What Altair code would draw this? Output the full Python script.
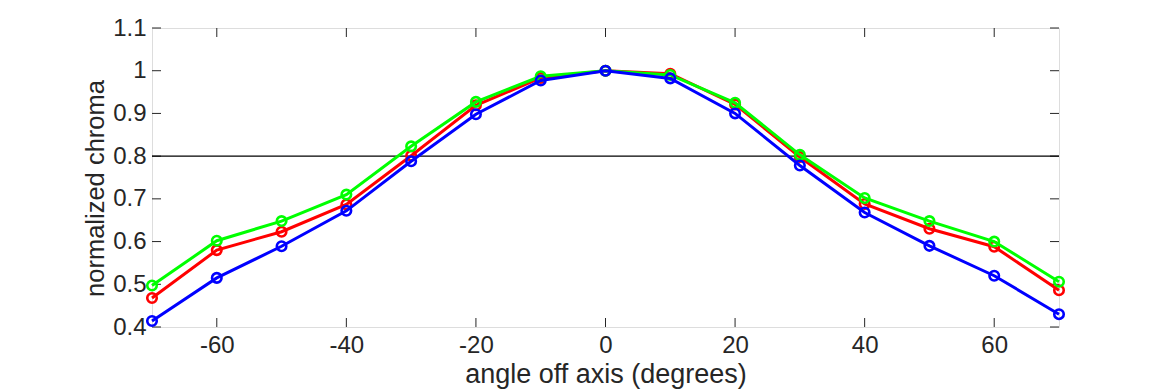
import altair as alt
import pandas as pd

angles = [-70, -60, -50, -40, -30, -20, -10, 0, 10, 20, 30, 40, 50, 60, 70]
red = [0.468, 0.580, 0.623, 0.687, 0.801, 0.919, 0.983, 1.0, 0.993, 0.921, 0.798, 0.688, 0.630, 0.588, 0.486]
green = [0.497, 0.602, 0.648, 0.710, 0.823, 0.927, 0.987, 1.0, 0.990, 0.925, 0.803, 0.702, 0.648, 0.600, 0.506]
blue = [0.414, 0.515, 0.589, 0.672, 0.788, 0.898, 0.977, 1.0, 0.982, 0.900, 0.778, 0.668, 0.590, 0.520, 0.430]
series = [("red", red, "#ff0000"), ("green", green, "#00ff00"), ("blue", blue, "#0000ff")]

x_ticks = [-60, -40, -20, 0, 20, 40, 60]
y_ticks = [0.4, 0.5, 0.6, 0.7, 0.8, 0.9, 1.0, 1.1]
threshold = [0.8]

W, H = 907, 299
FONT = "Liberation Sans"
AX = "#262626"

xs = alt.Scale(domain=[-70, 70], nice=False, zero=False)
ys = alt.Scale(domain=[0.4, 1.1], nice=False, zero=False)

x_axis = alt.Axis(values=x_ticks, labelExpr="'' + datum.value", tickSize=0, domain=False, grid=False,
                  labelPadding=6, titlePadding=4, labelFontSize=24, titleFontSize=27,
                  labelColor=AX, titleColor=AX, labelFont=FONT, titleFont=FONT, titleFontWeight="normal")
y_axis = alt.Axis(values=y_ticks, format=".1~f", tickSize=0, domain=False, grid=False,
                  labelPadding=6, titlePadding=4, labelFontSize=24, titleFontSize=25.5,
                  titleY=160,
                  labelColor=AX, titleColor=AX, labelFont=FONT, titleFont=FONT, titleFontWeight="normal")

layers = []
base_x = pd.DataFrame({"angle": x_ticks})
base_y = pd.DataFrame({"val": y_ticks})

axes = alt.Chart(base_x).mark_point(opacity=0).encode(
    x=alt.X("angle:Q", scale=xs, axis=x_axis, title="angle off axis (degrees)"),
    y=alt.Y("v:Q", scale=ys, axis=y_axis, title="normalized chroma"),
).transform_calculate(v="0.8")
layers.append(axes)

tick_len = 9
layers.append(alt.Chart(base_x).mark_rule(color=AX, strokeWidth=1).encode(
    x=alt.X("angle:Q", scale=xs), y=alt.value(H), y2=alt.value(H - tick_len)))
layers.append(alt.Chart(base_x).mark_rule(color=AX, strokeWidth=1).encode(
    x=alt.X("angle:Q", scale=xs), y=alt.value(0), y2=alt.value(tick_len)))
layers.append(alt.Chart(base_y).mark_rule(color=AX, strokeWidth=1).encode(
    y=alt.Y("val:Q", scale=ys), x=alt.value(0), x2=alt.value(tick_len)))
layers.append(alt.Chart(base_y).mark_rule(color=AX, strokeWidth=1).encode(
    y=alt.Y("val:Q", scale=ys), x=alt.value(W), x2=alt.value(W - tick_len)))

layers.append(alt.Chart(pd.DataFrame({"t": threshold})).mark_rule(color="#000000", strokeWidth=1.4).encode(
    y=alt.Y("t:Q", scale=ys), x=alt.value(0), x2=alt.value(W)))

for name, vals, col in series:
    df = pd.DataFrame({"angle": angles, "value": vals})
    enc = dict(x=alt.X("angle:Q", scale=xs), y=alt.Y("value:Q", scale=ys))
    layers.append(alt.Chart(df).mark_line(color=col, strokeWidth=3).encode(**enc))
    layers.append(alt.Chart(df).mark_point(shape="circle", filled=False, color=col, size=90,
                                           strokeWidth=2.6, opacity=1).encode(**enc))

chart = alt.layer(*layers).properties(
    width=W, height=H,
    autosize=alt.AutoSizeParams(type="none"),
    padding={"left": 144, "top": 20, "right": 103, "bottom": 63},
).configure_view(stroke=AX, strokeWidth=1.3).configure(background="white")

chart.save("out.html", embed_options={"renderer": "svg", "actions": False})
